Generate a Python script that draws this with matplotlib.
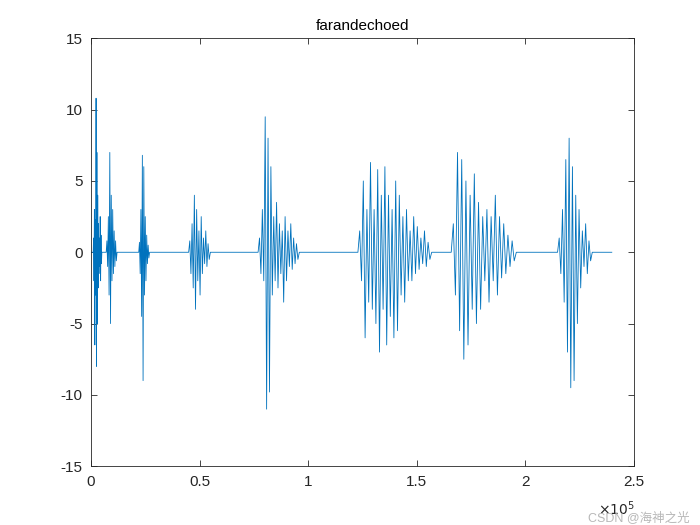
import matplotlib.pyplot as plt
import numpy as np

# bursts: (start, end) in samples, then signed peak values
burst_spans = [
    (1000, 5000), (7000, 12000), (22000, 27000), (45000, 55000),
    (77000, 96000), (123000, 157000), (166000, 196000), (215000, 231000),
]
burst_peaks = [
    [1, -2, 3, -6.5, 2.3, -3, 10.8, -8, 7, -5, 4, -2.5, 2, -1.5, 1, -1, 2.5, -2, 1.2, -0.8],
    [0.8, -1, 2.5, -3, 7, -5, 4, -2, 3, -1.5, 1.5, -1, 0.8, -0.6],
    [0.7, -1.5, 3, -4.5, 6.8, -9, 6, -3, 2.5, -2, 1.2, -0.8, 0.5, -0.4],
    [0.8, -1.5, 2, -2.5, 4, -4, 3, -2, 1.5, -3, 2.5, -1.5, 1, -0.8, 1.5, -1, 0.6, -0.5],
    [1, -1.5, 3, -2, 9.5, -11, 8, -9.8, 6, -3, 2.5, -2, 3.5, -2.5, 2, -1.5, 1.5, -3.5,
     2.5, -2, 1.5, -1, 2, -1.2, 1, -0.8, 0.6, -0.5],
    [1.5, -2, 5, -6, 3, -3.5, 6.3, -4, 3, -5, 5.8, -7, 4, -4, 6, -6.5, 4, -4.5, 3,
     -6, 5, -5.5, 4, -3, 2.5, -3.5, 3, -2, 1.5, -2, 2.5, -1.5, 1.8, -1.2, 1, -0.8,
     1.5, -1, 0.7, -0.5],
    [2, -3, 7, -5.5, 6.5, -7.5, 5, -6.5, 4, -4, 5.5, -5, 3.5, -4, 2.5, -2, 3, -3.5,
     2.5, -2, 4, -3, 2.5, -1.8, 2, -1.5, 1.2, -1, 0.8, -0.6],
    [1, -1.5, 3, -3.5, 6.5, -7, 8, -9.5, 6, -9, 4, -5, 3, -2.5, 1.5, -1, 2, -1.5, 0.8, -0.6],
]
n_samples = 240000

xs, ys = [0.0], [0.0]
for (s, e), peaks in zip(burst_spans, burst_peaks):
    pos = np.linspace(s, e, len(peaks) + 2)
    xs.extend(pos)
    ys.extend([0.0] + peaks + [0.0])
xs.append(n_samples)
ys.append(0.0)

plt.rcParams["font.family"] = ["Liberation Sans", "Noto Sans CJK SC", "DejaVu Sans"]
plt.rcParams["axes.unicode_minus"] = False
fig = plt.figure(figsize=(7, 5.25), dpi=100)
ax = fig.add_axes([0.13, 0.112, 0.775, 0.815])
ax.plot(xs, ys, color="#0072BD", linewidth=0.6)
ax.set_xlim(0, 250000)
ax.set_ylim(-15, 15)
ax.set_xticks(np.arange(0, 250001, 50000))
ax.set_xticklabels(["0", "0.5", "1", "1.5", "2", "2.5"])
ax.set_yticks(np.arange(-15, 16, 5))
ax.tick_params(direction="in", top=True, right=True, labelsize=11, colors="#262626",
               length=4, width=0.6, pad=6)
for sp in ax.spines.values():
    sp.set_color("#262626")
    sp.set_linewidth(0.6)
ax.set_title("farandechoed", fontsize=11, color="#000000")
fig.text(0.855, 0.02, r"$\times10^5$", fontsize=10, color="#262626")
fig.text(0.84, 0.008, "CSDN @海神之光", fontsize=9, color="#b0b0b0", alpha=0.9)
fig.savefig("out.png", dpi=100)
